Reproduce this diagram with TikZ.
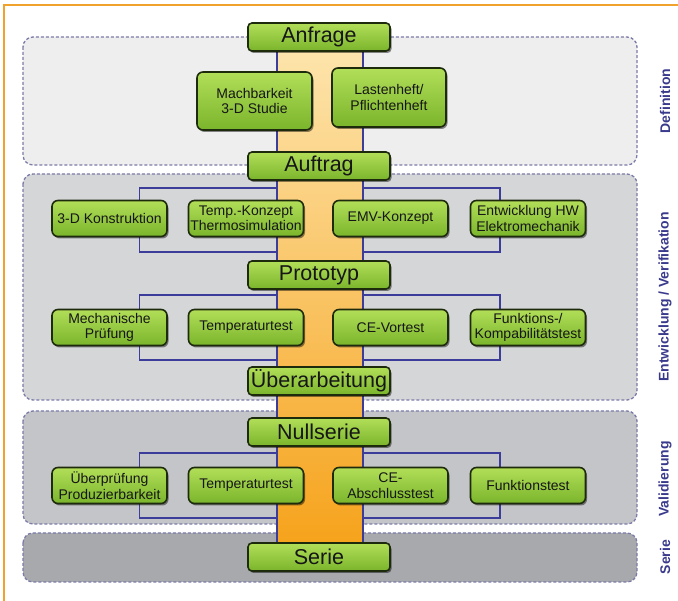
\documentclass[tikz,border=0pt]{standalone}
\usepackage{fontspec}
\setmainfont{Liberation Sans}
\usetikzlibrary{shadows}
\pgfdeclarelayer{bg}
\pgfsetlayers{bg,main}
\definecolor{frameor}{HTML}{EFA22C}
\definecolor{dashc}{HTML}{7B7BA8}
\definecolor{pdef}{HTML}{EEEEEF}
\definecolor{pent}{HTML}{D5D6D8}
\definecolor{pval}{HTML}{C4C5C8}
\definecolor{pser}{HTML}{A7A9AD}
\definecolor{bandtop}{HTML}{FDE4AB}
\definecolor{bandmid}{HTML}{FBC86A}
\definecolor{bandbot}{HTML}{F6A31C}
\definecolor{gtop}{HTML}{B2DE58}
\definecolor{gbot}{HTML}{7AB52C}
\definecolor{boxline}{HTML}{1E2A0C}
\definecolor{txt}{HTML}{161616}
\definecolor{lilac}{HTML}{3C3C9A}
\definecolor{phasec}{HTML}{3A3A8C}
\begin{document}
\begin{tikzpicture}[x=1pt,y=-1pt,
  panel/.style={draw=dashc, line width=1.3pt, dash pattern=on 3pt off 2pt, rounded corners=10pt},
  greenbox/.style={draw=boxline, line width=1.6pt, top color=gtop, bottom color=gbot, text=txt, inner sep=0pt,
     drop shadow={shadow xshift=1.5pt, shadow yshift=-2pt, fill=black, opacity=0.45}},
  mainbox/.style={greenbox, rounded corners=4pt, minimum width=142pt, minimum height=28pt, font=\fontsize{21.5}{23}\selectfont},
  subbox/.style={greenbox, rounded corners=6pt, minimum width=115pt, minimum height=36pt, align=center, font=\fontsize{14}{15.5}\selectfont},
  conn/.style={draw=lilac, line width=1.6pt},
  phase/.style={rotate=90, text=phasec, font=\bfseries\fontsize{14}{16}\selectfont}]
\useasboundingbox (0,0) rectangle (678,601);
% frame
\draw[frameor, line width=2pt] (4,601) -- (4,5) -- (678,5);
% coordinates
\coordinate (xl) at (277,0);
\coordinate (xr) at (363,0);
% main nodes
\node[mainbox] (anfrage) at (319,37) {Anfrage};
\node[mainbox] (auftrag) at (319,166) {Auftrag};
\node[mainbox] (proto) at (319,275) {Prototyp};
\node[mainbox] (ueber) at (319,381) {Überarbeitung};
\node[mainbox] (null) at (319,432) {Nullserie};
\node[mainbox] (serie) at (319,557) {Serie};
% definition boxes
\node[subbox, minimum width=115pt, minimum height=58pt] (mach) at (254.5,101) {Machbarkeit\\3-D Studie};
\node[subbox, minimum width=114pt, minimum height=59pt] (lasten) at (389,97.5) {Lastenheft/\\Pflichtenheft};
% row coordinates
\coordinate (t1l) at (277,188); \coordinate (b1l) at (277,252);
\coordinate (t1r) at (363,188); \coordinate (b1r) at (363,252);
\coordinate (t2l) at (277,295); \coordinate (b2l) at (277,360);
\coordinate (t2r) at (363,295); \coordinate (b2r) at (363,360);
\coordinate (t3l) at (277,453); \coordinate (b3l) at (277,518);
\coordinate (t3r) at (363,453); \coordinate (b3r) at (363,518);
% sub rows
\node[subbox] (k1) at (109.5,218.5) {3-D Konstruktion};
\node[subbox] (k2) at (246,218.5) {Temp.-Konzept\\Thermosimulation};
\node[subbox] (k3) at (390.5,218.5) {EMV-Konzept};
\node[subbox] (k4) at (528,218.5) {Entwicklung HW\\Elektromechanik};
\node[subbox] (v1) at (109.5,327.5) {Mechanische\\Prüfung};
\node[subbox] (v2) at (246,327.5) {Temperaturtest};
\node[subbox] (v3) at (390.5,327.5) {CE-Vortest};
\node[subbox] (v4) at (528,327.5) {Funktions-/\\Kompabilitätstest};
\node[subbox] (w1) at (109.5,485.5) {Überprüfung\\Produzierbarkeit};
\node[subbox] (w2) at (246,485.5) {Temperaturtest};
\node[subbox] (w3) at (390.5,485.5) {CE-\\Abschlusstest};
\node[subbox] (w4) at (528,485.5) {Funktionstest};
% phase labels
\node[phase] (ph1) at (665,101) {Definition};
\node[phase] (ph2) at (665,297) {Entwicklung / Verifikation};
\node[phase] (ph3) at (665,479) {Validierung};
\node[phase] (ph4) at (665,557) {Serie};
\begin{pgfonlayer}{bg}
% panels
\draw[panel, fill=pdef] (23,37) rectangle (637,165);
\draw[panel, fill=pent] (23,174) rectangle (637,400);
\draw[panel, fill=pval] (23,411) rectangle (637,524);
\draw[panel, fill=pser] (23,533) rectangle (637,582);
% band
\shade[top color=bandtop, middle color=bandmid, bottom color=bandbot] (277,51) rectangle (363,543);
% band edge connectors
\draw[conn] (anfrage.south -| xl) -- (mach.north -| xl);
\draw[conn] (mach.south -| xl) -- (auftrag.north -| xl);
\draw[conn] (anfrage.south -| xr) -- (lasten.north -| xr);
\draw[conn] (lasten.south -| xr) -- (auftrag.north -| xr);
\draw[conn] (auftrag.south -| xl) -- (proto.north -| xl);
\draw[conn] (auftrag.south -| xr) -- (proto.north -| xr);
\draw[conn] (proto.south -| xl) -- (ueber.north -| xl);
\draw[conn] (proto.south -| xr) -- (ueber.north -| xr);
\draw[conn] (ueber.south -| xl) -- (null.north -| xl);
\draw[conn] (ueber.south -| xr) -- (null.north -| xr);
\draw[conn] (null.south -| xl) -- (serie.north -| xl);
\draw[conn] (null.south -| xr) -- (serie.north -| xr);
% brackets
\draw[conn] ([xshift=30pt]k1.north) |- (t1l);
\draw[conn] ([xshift=30pt]k1.south) |- (b1l);
\draw[conn] ([xshift=-28pt]k4.north) |- (t1r);
\draw[conn] ([xshift=-28pt]k4.south) |- (b1r);
\draw[conn] ([xshift=30pt]v1.north) |- (t2l);
\draw[conn] ([xshift=30pt]v1.south) |- (b2l);
\draw[conn] ([xshift=-28pt]v4.north) |- (t2r);
\draw[conn] ([xshift=-28pt]v4.south) |- (b2r);
\draw[conn] ([xshift=30pt]w1.north) |- (t3l);
\draw[conn] ([xshift=30pt]w1.south) |- (b3l);
\draw[conn] ([xshift=-28pt]w4.north) |- (t3r);
\draw[conn] ([xshift=-28pt]w4.south) |- (b3r);
\end{pgfonlayer}
\end{tikzpicture}
\end{document}
